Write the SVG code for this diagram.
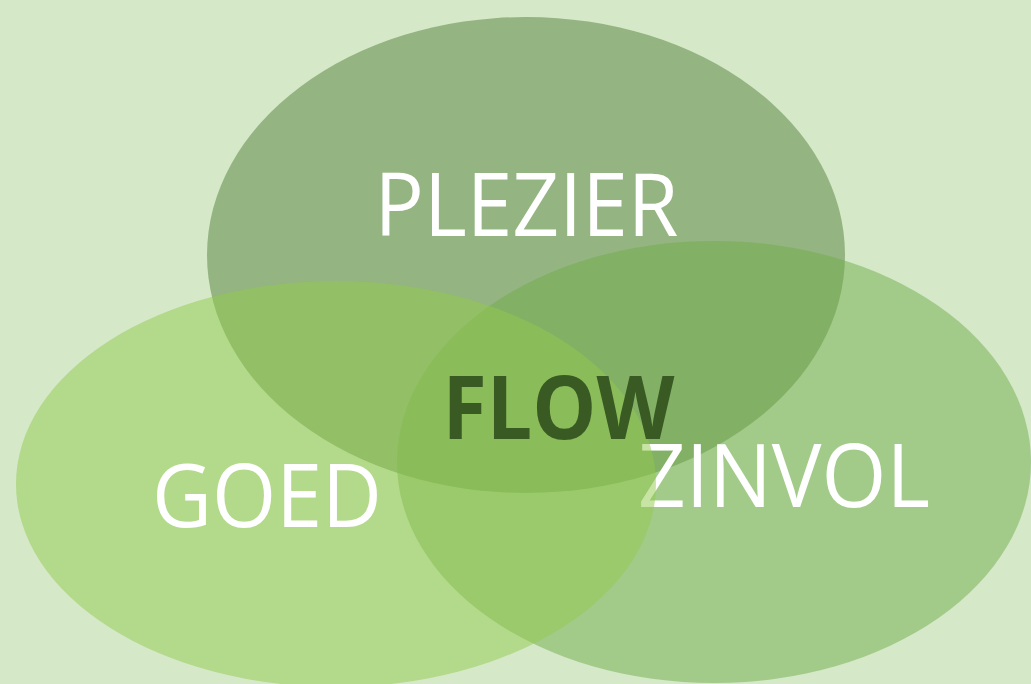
<svg xmlns="http://www.w3.org/2000/svg" width="1031" height="684" viewBox="0 0 1031 684">
<style>
.lbl{font-family:"Open Sans","Noto Sans","Liberation Sans",sans-serif;font-size:88px;fill:#ffffff;text-anchor:middle}
.flow{font-family:"Open Sans","Noto Sans","Liberation Sans",sans-serif;font-size:87px;font-weight:bold;fill:#3a5a24;text-anchor:middle}
.ell{fill-opacity:0.5}
</style>
<rect width="1031" height="684" fill="#d5e8c8"/>
<g id="plezier">
<ellipse class="ell" cx="526" cy="255" rx="319" ry="238" fill="#53803a"/>
<text class="lbl" x="526.5" y="236" textLength="304" lengthAdjust="spacingAndGlyphs">PLEZIER</text>
</g>
<g id="zinvol">
<ellipse class="ell" cx="714" cy="462" rx="317" ry="221" fill="#6fae4c"/>
<text class="lbl" x="784" y="507" textLength="292" lengthAdjust="spacingAndGlyphs">ZINVOL</text>
</g>
<g id="goed">
<ellipse class="ell" cx="336" cy="484" rx="320" ry="203" fill="#91ca4c"/>
<text class="lbl" x="267" y="527" textLength="230" lengthAdjust="spacingAndGlyphs">GOED</text>
</g>
<g id="flow">
<text class="flow" x="558.5" y="439" textLength="232" lengthAdjust="spacingAndGlyphs">FLOW</text>
</g>
<g id="connectors"/>
</svg>
